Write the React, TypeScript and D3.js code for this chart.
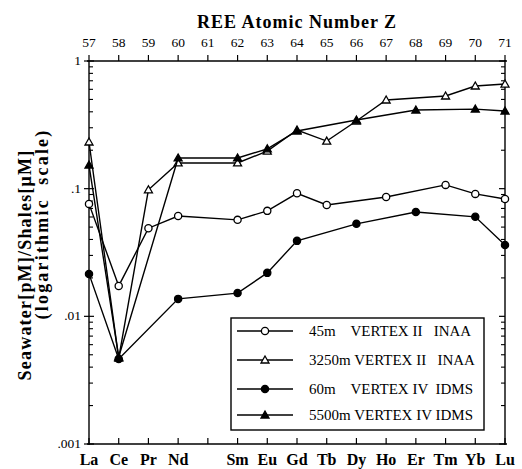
import React from 'react';
import * as d3 from 'd3';

const topNumbers = [57, 58, 59, 60, 61, 62, 63, 64, 65, 66, 67, 68, 69, 70, 71];
const elements = ['La', 'Ce', 'Pr', 'Nd', 'Sm', 'Eu', 'Gd', 'Tb', 'Dy', 'Ho', 'Er', 'Tm', 'Yb', 'Lu'];
const elementZ = [57, 58, 59, 60, 62, 63, 64, 65, 66, 67, 68, 69, 70, 71];
const yTickValues = [0.001, 0.01, 0.1, 1];
const yTickLabels = ['.001', '.01', '.1', '1'];

// null = not measured
const s45m = [0.076, 0.0173, 0.049, 0.061, 0.057, 0.067, 0.092, 0.0745, null, 0.086, null, 0.107, 0.091, 0.083];
const s3250m = [0.232, 0.0047, 0.098, 0.159, 0.159, 0.197, 0.288, 0.236, 0.339, 0.495, null, 0.532, 0.637, 0.66];
const s60m = [0.0215, 0.00464, null, 0.0137, 0.0152, 0.0219, 0.039, null, 0.053, null, 0.0657, null, 0.0602, 0.0362];
const s5500m = [0.153, 0.0048, null, 0.174, 0.174, 0.205, 0.283, null, 0.345, null, 0.413, null, 0.42, 0.406];

const seriesNames = [
  '45m    VERTEX II   INAA',
  '3250m VERTEX II   INAA',
  '60m    VERTEX IV  IDMS',
  '5500m VERTEX IV IDMS',
];

const series = [
  { name: seriesNames[0], values: s45m, shape: 'circle', filled: false },
  { name: seriesNames[1], values: s3250m, shape: 'triangle', filled: false },
  { name: seriesNames[2], values: s60m, shape: 'circle', filled: true },
  { name: seriesNames[3], values: s5500m, shape: 'triangle', filled: true },
];

const serif = '"Liberation Serif", "Times New Roman", serif';

const Marker = ({ x, y, shape, filled }: any) => {
  if (shape === 'circle') {
    return <circle cx={x} cy={y} r={3.6} fill={filled ? '#000' : '#fff'} stroke="#000" strokeWidth={1.3} />;
  }
  const s = 4;
  return (
    <path
      d={`M${x},${y - s}L${x + s},${y + s * 0.75}L${x - s},${y + s * 0.75}Z`}
      fill={filled ? '#000' : '#fff'}
      stroke="#000"
      strokeWidth={1.3}
    />
  );
};

export default function App() {
  const width = 522;
  const height = 469;
  const left = 89, right = 505, top = 61, bottom = 444;

  const x = d3.scaleLinear().domain([57, 71]).range([left, right]);
  const y = d3.scaleLog().domain([0.001, 1]).range([bottom, top]);

  const minor: number[] = [];
  [0.001, 0.01, 0.1].forEach(d => {
    for (let k = 2; k <= 9; k++) minor.push(d * k);
  });

  const line = d3
    .line<[number, number]>()
    .x(d => x(d[0]))
    .y(d => y(d[1]));

  const legendX = 231, legendY = 318, legendW = 253, legendH = 112;
  const legendRows = [331, 360, 389, 415];

  return (
    <svg width={width} height={height} style={{ position: 'absolute', left: 0, top: 0, background: '#fff' }}>
      <rect width={width} height={height} fill="#fff" />
      {/* title */}
      <text x={297} y={28} textAnchor="middle" fontFamily={serif} fontWeight="bold" fontSize={18} letterSpacing={1}>
        REE Atomic Number Z
      </text>
      {/* frame */}
      <g stroke="#000" strokeWidth={1.4} fill="none">
        <line x1={left - 2} x2={right + 2} y1={top} y2={top} />
        <line x1={left - 2} x2={right + 2} y1={bottom} y2={bottom} />
        <line x1={left} x2={left} y1={top} y2={bottom + 1} />
        <line x1={right} x2={right} y1={top - 1} y2={bottom + 1} />
      </g>
      {/* top axis */}
      {topNumbers.map(n => (
        <g key={'t' + n}>
          <line x1={x(n)} x2={x(n)} y1={top - 6} y2={top} stroke="#000" strokeWidth={1.2} />
          <text x={x(n)} y={47} textAnchor="middle" fontFamily={serif} fontSize={13.5}>
            {n}
          </text>
        </g>
      ))}
      {/* bottom axis ticks */}
      {topNumbers.map(n => (
        <line key={'b' + n} x1={x(n)} x2={x(n)} y1={bottom - 6} y2={bottom} stroke="#000" strokeWidth={1.2} />
      ))}
      {elements.map((el, i) => (
        <text key={el} x={x(elementZ[i])} y={465} textAnchor="middle" fontFamily={serif} fontWeight="bold" fontSize={16}>
          {el}
        </text>
      ))}
      {/* y axis ticks */}
      {yTickValues.map((v, i) => (
        <g key={'y' + v}>
          <line x1={left - 5} x2={left + 5} y1={y(v)} y2={y(v)} stroke="#000" strokeWidth={1.2} />
          <line x1={right - 6} x2={right} y1={y(v)} y2={y(v)} stroke="#000" strokeWidth={1.2} />
          <text x={left - 8} y={y(v) + 4} textAnchor="end" fontFamily={serif} fontSize={13.5}>
            {yTickLabels[i]}
          </text>
        </g>
      ))}
      {minor.map(v => (
        <g key={'m' + v}>
          <line x1={left} x2={left + 4} y1={y(v)} y2={y(v)} stroke="#000" strokeWidth={1.1} />
          <line x1={right - 4} x2={right} y1={y(v)} y2={y(v)} stroke="#000" strokeWidth={1.1} />
        </g>
      ))}
      {/* y label */}
      <text
        transform="translate(31,265) rotate(-90)"
        textAnchor="middle"
        fontFamily={serif}
        fontWeight="bold"
        fontSize={18}
        letterSpacing={1.2}
      >
        Seawater[pM]/Shales[μM]
      </text>
      <text
        transform="translate(48,224) rotate(-90)"
        textAnchor="middle"
        fontFamily={serif}
        fontWeight="bold"
        fontSize={18}
        letterSpacing={2.2}
        style={{ whiteSpace: 'pre' }}
      >
        (logarithmic  scale)
      </text>
      {/* series */}
      {series.map((s, si) => {
        const pts: [number, number][] = [];
        s.values.forEach((v, i) => {
          if (v != null) pts.push([elementZ[i], v]);
        });
        return (
          <g key={'s' + si}>
            <path d={line(pts) || ''} fill="none" stroke="#000" strokeWidth={1.4} />
            {pts.map((p, i) => (
              <Marker key={i} x={x(p[0])} y={y(p[1])} shape={s.shape} filled={s.filled} />
            ))}
          </g>
        );
      })}
      {/* legend */}
      <rect x={legendX} y={legendY} width={legendW} height={legendH} fill="#fff" stroke="#000" strokeWidth={1.4} />
      {series.map((s, i) => (
        <g key={'l' + i}>
          <line x1={legendX + 6} x2={legendX + 62} y1={legendRows[i]} y2={legendRows[i]} stroke="#000" strokeWidth={1.4} />
          <Marker x={legendX + 34} y={legendRows[i]} shape={s.shape} filled={s.filled} />
          <text
            x={legendX + 78}
            y={legendRows[i] + 5}
            fontFamily={serif}
            fontSize={15}
            style={{ whiteSpace: 'pre' }}
          >
            {s.name}
          </text>
        </g>
      ))}
    </svg>
  );
}
